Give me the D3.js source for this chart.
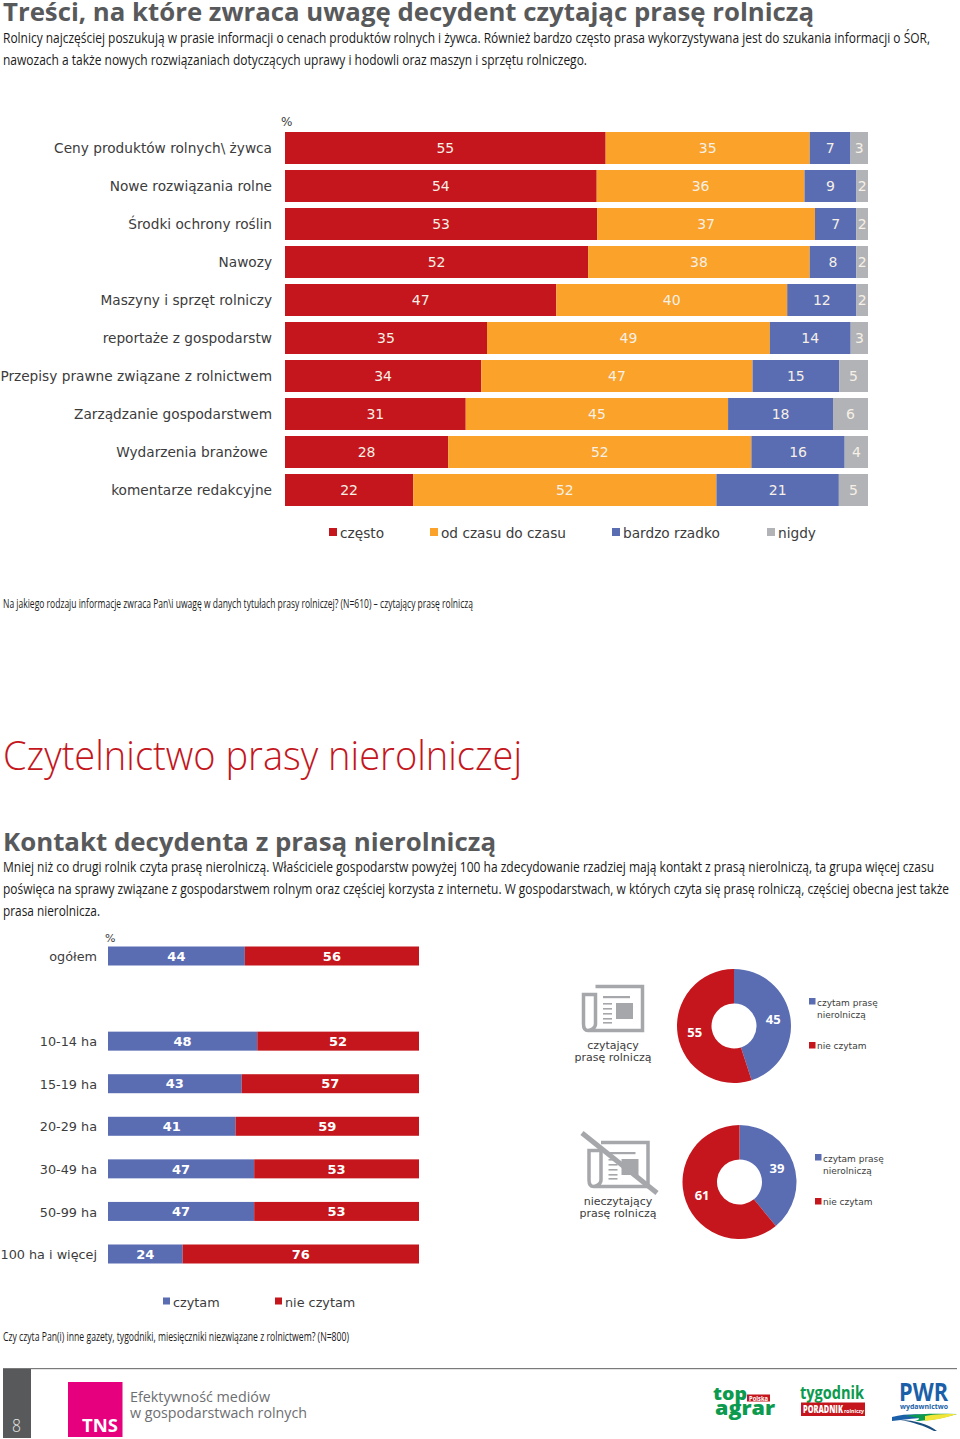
<!DOCTYPE html>
<html>
<head>
<meta charset="utf-8">
<script src="https://d3js.org/d3.v7.min.js"></script>
<style>
  html, body { margin: 0; padding: 0; background: #fff; }
  svg { display: block; }
  .axis path { display: none; }
  .axis text { font-family: "DejaVu Sans", sans-serif; font-size: 13.7px; fill: #3c3c3c; white-space: pre; }
  .axis2 text { font-size: 12.8px; }
</style>
</head>
<body>
<div id="chart"></div>
<script>
// Chart 1: what farmers look for
var topics = ["Ceny produktów rolnych\\ żywca", "Nowe rozwiązania rolne", "Środki ochrony roślin", "Nawozy",
  "Maszyny i sprzęt rolniczy", "reportaże z gospodarstw", "Przepisy prawne związane z rolnictwem",
  "Zarządzanie gospodarstwem", "Wydarzenia branżowe ", "komentarze redakcyjne"];
var czesto = [55, 54, 53, 52, 47, 35, 34, 31, 28, 22];
var odCzasu = [35, 36, 37, 38, 40, 49, 47, 45, 52, 52];
var rzadko = [7, 9, 7, 8, 12, 14, 15, 18, 16, 21];
var nigdy = [3, 2, 2, 2, 2, 3, 5, 6, 4, 5];
var freqNames = ["często", "od czasu do czasu", "bardzo rzadko", "nigdy"];

// Chart 2: contact with non-farming press (blank row after "ogółem")
var groups = ["ogółem", "", "10-14 ha", "15-19 ha", "20-29 ha", "30-49 ha", "50-99 ha", "100 ha i więcej"];
var czytam = [44, null, 48, 43, 41, 47, 47, 24];
var nieCzytam = [56, null, 52, 57, 59, 53, 53, 76];
var readNames = ["czytam", "nie czytam"];

// Donuts
var donutReaders = [45, 55];
var donutNonReaders = [39, 61];

var RED = "#c4161c", ORANGE = "#faa229", BLUE = "#5a6db3", GREY = "#b2b3b6", INK = "#58595b";

var svg = d3.select("#chart").append("svg").attr("width", 960).attr("height", 1439);

// condensed text: squeezed to the measured width, like the brochure's narrow font
function fit(str, x, y, w, size, weight, color) {
  return svg.append("text").attr("x", x).attr("y", y)
    .attr("textLength", w).attr("lengthAdjust", "spacingAndGlyphs")
    .style("font-family", "'Open Sans', sans-serif").style("font-size", size + "px")
    .style("font-weight", weight).attr("fill", color).text(str);
}
function plain(str, x, y, size, color, anchor, weight) {
  return svg.append("text").attr("x", x).attr("y", y)
    .style("font-family", "'DejaVu Sans', sans-serif").style("font-size", size + "px")
    .style("font-weight", weight || 400).attr("text-anchor", anchor || "start").attr("fill", color).text(str);
}

// Text blocks
fit("Treści, na które zwraca uwagę decydent czytając prasę rolniczą", 3, 21, 811, 25.5, 700, INK);
fit("Rolnicy najczęściej poszukują w prasie informacji o cenach produktów rolnych i żywca. Również bardzo często prasa wykorzystywana jest do szukania informacji o ŚOR,", 3, 42.7, 927, 15, 400, "#1a1a1a");
fit("nawozach a także nowych rozwiązaniach dotyczących uprawy i hodowli oraz maszyn i sprzętu rolniczego.", 3, 64.5, 584, 15, 400, "#1a1a1a");
fit("Na jakiego rodzaju informacje zwraca Pan\\i uwagę w danych tytułach prasy rolniczej? (N=610) – czytający prasę rolniczą", 3, 608, 470, 12, 400, "#1a1a1a");
fit("Czytelnictwo prasy nierolniczej", 3, 770, 519, 41, 300, RED);
fit("Kontakt decydenta z prasą nierolniczą", 3, 850.5, 493, 25.5, 700, INK);
fit("Mniej niż co drugi rolnik czyta prasę nierolniczą. Właściciele gospodarstw powyżej 100 ha zdecydowanie rzadziej mają kontakt z prasą nierolniczą, ta grupa więcej czasu", 3, 872, 931, 15, 400, "#1a1a1a");
fit("poświęca na sprawy związane z gospodarstwem rolnym oraz częściej korzysta z internetu. W gospodarstwach, w których czyta się prasę rolniczą, częściej obecna jest także", 3, 894, 946, 15, 400, "#1a1a1a");
fit("prasa nierolnicza.", 3, 916, 97, 15, 400, "#1a1a1a");
fit("Czy czyta Pan(i) inne gazety, tygodniki, miesięczniki niezwiązane z rolnictwem? (N=800)", 3, 1341, 346, 12, 400, "#1a1a1a");

plain("%", 281, 126, 12, "#3c3c3c");
plain("%", 105, 942, 11, "#3c3c3c");

// draws one 100% stacked bar chart
function stacked(cats, seriesVals, colors, x0, x1, yScale, barH, axisClass, labelStyle) {
  var rows = cats.map(function(c, i) {
    var r = { cat: c };
    seriesVals.forEach(function(s, k) { r["s" + k] = s[i]; });
    return r;
  }).filter(function(r) { return r.s0 != null; });
  var keys = seriesVals.map(function(s, k) { return "s" + k; });
  var layers = d3.stack().keys(keys).offset(d3.stackOffsetExpand)(rows);
  var x = d3.scaleLinear().domain([0, 1]).range([x0, x1]);

  var g = svg.append("g").selectAll("g").data(layers).enter().append("g")
    .attr("fill", function(d, i) { return colors[i]; });
  g.selectAll("rect").data(function(d) { return d; }).enter().append("rect")
    .attr("x", function(d) { return x(d[0]); })
    .attr("width", function(d) { return x(d[1]) - x(d[0]); })
    .attr("y", function(d) { return yScale(d.data.cat) - barH / 2; })
    .attr("height", barH);

  layers.forEach(function(layer) {
    svg.append("g").selectAll("text").data(layer).enter().append("text")
      .attr("x", function(d) { return (x(d[0]) + x(d[1])) / 2; })
      .attr("y", function(d) { return yScale(d.data.cat); })
      .attr("dy", "0.36em")
      .attr("text-anchor", "middle")
      .attr("fill", labelStyle.color)
      .style("font-family", "'DejaVu Sans', sans-serif")
      .style("font-size", labelStyle.size + "px")
      .style("font-weight", labelStyle.weight)
      .text(function(d) { return d.data[layer.key]; });
  });

  svg.append("g").attr("class", "axis " + axisClass)
    .attr("transform", "translate(" + x0 + ",0.5)")
    .call(d3.axisLeft(yScale).tickSize(0).tickPadding(axisClass ? 11 : 13));
}

var y1 = d3.scalePoint().domain(topics).range([148, 490]);
stacked(topics, [czesto, odCzasu, rzadko, nigdy], [RED, ORANGE, BLUE, GREY], 285, 868, y1, 32, "",
  { color: "#f6f0e6", size: 14, weight: 400 });

var y2 = d3.scalePoint().domain(groups).range([956, 1254]);
stacked(groups, [czytam, nieCzytam], [BLUE, RED], 108, 419, y2, 19, "axis2",
  { color: "#fff", size: 13, weight: 700 });

// legends
function legend(names, colors, xs, y, size, box) {
  names.forEach(function(n, i) {
    svg.append("rect").attr("x", xs[i]).attr("y", y - box / 2 - 1).attr("width", box).attr("height", box).attr("fill", colors[i]);
    plain(n, xs[i] + box + 3, y + size * 0.36, size, "#3c3c3c");
  });
}
legend(freqNames, [RED, ORANGE, BLUE, GREY], [329, 430, 612, 767], 533, 13.7, 8);
legend(readNames, [BLUE, RED], [163, 275], 1302, 12.8, 7);

// donuts
function donut(vals, cx, cy) {
  var pie = d3.pie().sort(null)(vals);
  var arc = d3.arc().innerRadius(22.5).outerRadius(57);
  var g = svg.append("g").attr("transform", "translate(" + cx + "," + cy + ")");
  g.selectAll("path").data(pie).enter().append("path")
    .attr("d", arc).attr("fill", function(d, i) { return [BLUE, RED][i]; });
  g.selectAll("text").data(pie).enter().append("text")
    .attr("transform", function(d) { return "translate(" + arc.centroid(d) + ")"; })
    .attr("dy", "0.36em").attr("text-anchor", "middle").attr("fill", "#fff")
    .style("font-family", "'Open Sans', sans-serif").style("font-size", "13px").style("font-weight", 700)
    .text(function(d) { return d.data; });
}
donut(donutReaders, 734, 1026);
donut(donutNonReaders, 739.5, 1182);

function donutLegend(dx, dy) {
  svg.append("rect").attr("x", 809 + dx).attr("y", 998 + dy).attr("width", 6.5).attr("height", 6.5).attr("fill", BLUE);
  plain("czytam prasę", 817 + dx, 1006 + dy, 9, "#3c3c3c");
  plain("nierolniczą", 817 + dx, 1018 + dy, 9, "#3c3c3c");
  svg.append("rect").attr("x", 809 + dx).attr("y", 1042 + dy).attr("width", 6.5).attr("height", 6.5).attr("fill", RED);
  plain("nie czytam", 817 + dx, 1049 + dy, 9, "#3c3c3c");
}
donutLegend(0, 0);
donutLegend(6, 156);

// newspaper icons
function paper(dx, dy) {
  var g = svg.append("g").attr("transform", "translate(" + dx + "," + dy + ")");
  var c = "#a5a7aa";
  g.append("path").attr("d", "M595.5,986.5H642.5V1030.5H588C584,1030.5 583.5,1027 583.5,1024V994.5H595.5V1024C595.5,1028 591,1030.5 588,1030.5")
    .attr("fill", "none").attr("stroke", c).attr("stroke-width", 3.5);
  g.append("rect").attr("x", 603).attr("y", 996).attr("width", 27).attr("height", 2.2).attr("fill", c);
  g.append("rect").attr("x", 616).attr("y", 1003).attr("width", 17).attr("height", 16).attr("fill", c);
  [1003, 1008, 1013, 1018, 1022].forEach(function(v) {
    g.append("rect").attr("x", 603).attr("y", v).attr("width", 9).attr("height", 1.6).attr("fill", c);
  });
}
paper(0, 0);
paper(5.5, 156);
svg.append("line").attr("x1", 582).attr("y1", 1133).attr("x2", 657).attr("y2", 1193)
  .attr("stroke", "#a5a7aa").attr("stroke-width", 5);

plain("czytający", 613, 1049, 11, "#3c3c3c", "middle");
plain("prasę rolniczą", 613, 1061, 11, "#3c3c3c", "middle");
plain("nieczytający", 618, 1205, 11, "#3c3c3c", "middle");
plain("prasę rolniczą", 618, 1217, 11, "#3c3c3c", "middle");

// footer
svg.append("rect").attr("x", 3).attr("y", 1368).attr("width", 954).attr("height", 1.2).attr("fill", "#7a7a7a");
svg.append("rect").attr("x", 3).attr("y", 1369).attr("width", 28).attr("height", 69).attr("fill", INK);
fit("8", 12, 1432, 9, 18, 300, "#e6e6e6");
svg.append("rect").attr("x", 68).attr("y", 1382).attr("width", 54.5).attr("height", 55).attr("fill", "#e6007e");
fit("TNS", 82, 1432, 36, 18.5, 700, "#fff");
fit("Efektywność mediów", 130, 1402, 140, 15, 400, "#6d6e71");
fit("w gospodarstwach rolnych", 130, 1418, 177, 15, 400, "#6d6e71");

// partner logos
fit("top", 713, 1400, 34, 18, 800, "#0b9a4e");
fit("agrar", 715, 1415, 60, 19, 800, "#0b9a4e");
svg.append("rect").attr("x", 747).attr("y", 1394.5).attr("width", 23).attr("height", 7).attr("fill", RED);
fit("Polska", 749, 1400.5, 19, 6.5, 700, "#fff");
fit("tygodnik", 800, 1399, 64, 17, 700, "#0b9a4e");
svg.append("rect").attr("x", 801).attr("y", 1402.5).attr("width", 64).attr("height", 13.5).attr("fill", RED);
fit("PORADNIK", 803, 1413, 40, 10.5, 800, "#fff");
fit("rolniczy", 844, 1413, 20, 5.5, 700, "#fff");
fit("PWR", 899, 1401, 49, 25, 700, "#1b5fa8");
fit("wydawnictwo", 900, 1409, 48, 7, 700, "#1b5fa8");
// swoosh under PWR
svg.append("path").attr("d", "M892,1417C910,1412 930,1415 945,1416C925,1417 910,1419 892,1421Z").attr("fill", "#1b5fa8");
svg.append("path").attr("d", "M905,1416C925,1413 940,1414 957,1414C940,1419 925,1421 915,1421C925,1418 915,1417 905,1416Z").attr("fill", "#0b9a4e");
svg.append("path").attr("d", "M925,1416C935,1414 945,1414 957,1414C945,1418 935,1420 925,1421Z").attr("fill", "#f2e53a");
svg.append("path").attr("d", "M900,1420C915,1420 928,1424 937,1431L934,1431C925,1426 912,1422 900,1420Z").attr("fill", "#1b4f80");
</script>
</body>
</html>
